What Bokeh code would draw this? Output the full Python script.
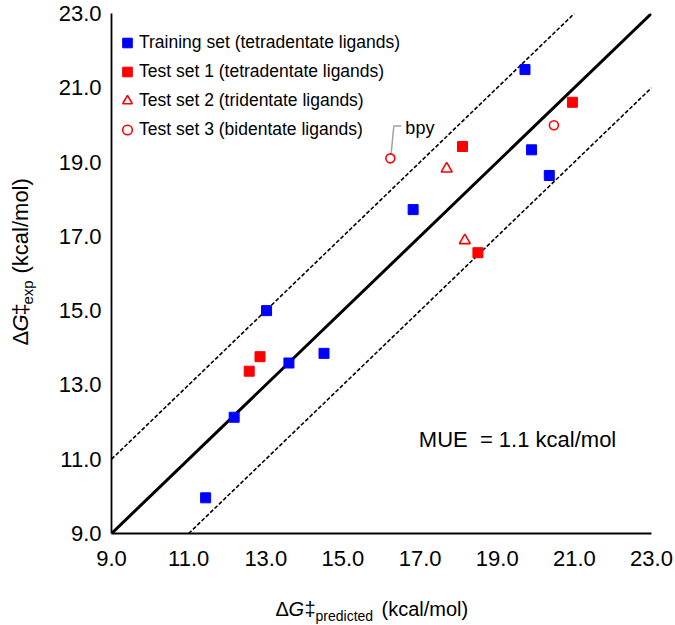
import math
from bokeh.plotting import figure
from bokeh.layouts import row, column
from bokeh.models import Range1d, FixedTicker, Label, Legend, LegendItem, PrintfTickFormatter
from bokeh.embed import file_html
from bokeh.resources import INLINE

FONT = "Liberation Sans"

# ---- data ----
tick_values = [9, 11, 13, 15, 17, 19, 21, 23]
axis_min, axis_max = 9.0, 23.0
band = 2.0

train_pred = [11.44, 12.18, 13.02, 13.60, 14.51, 16.82, 19.72, 19.89, 20.35]
train_exp = [9.96, 12.13, 15.00, 13.59, 13.85, 17.72, 21.49, 19.33, 18.64]
test1_pred = [12.57, 12.85, 18.10, 18.50, 20.95]
test1_exp = [13.37, 13.76, 19.42, 16.56, 20.61]
test2_pred = [17.69, 18.16]
test2_exp = [18.82, 16.89]
test3_pred = [16.23, 20.47]
test3_exp = [19.10, 19.99]

series_labels = [
    "Training set (tetradentate ligands)",
    "Test set 1 (tetradentate ligands)",
    "Test set 2 (tridentate ligands)",
    "Test set 3 (bidentate ligands)",
]
mue_text = "MUE\u00a0 = 1.1 kcal/mol"
bpy_text = "bpy"

p = figure(width=625, height=580,
           x_range=Range1d(axis_min, axis_max), y_range=Range1d(axis_min, axis_max),
           output_backend="svg", toolbar_location=None,
           min_border_left=61, min_border_right=24, min_border_top=13, min_border_bottom=47)
p.outline_line_color = None
p.xgrid.grid_line_color = None
p.ygrid.grid_line_color = None

for ax in (p.xaxis[0], p.yaxis[0]):
    ax.ticker = FixedTicker(ticks=tick_values)
    ax.formatter = PrintfTickFormatter(format="%.1f")
    ax.major_tick_out = 0
    ax.major_tick_in = 0
    ax.minor_tick_out = 0
    ax.minor_tick_in = 0
    ax.axis_line_color = "black"
    ax.axis_line_width = 1.8
    ax.major_label_text_font = FONT
    ax.major_label_text_font_size = "22px"
    ax.major_label_text_color = "black"
p.xaxis.major_label_standoff = 17
p.yaxis.major_label_standoff = 10

# reference lines
p.line([axis_min, axis_max], [axis_min, axis_max], line_color="black", line_width=3)
p.line([axis_min, axis_max - band], [axis_min + band, axis_max], line_color="black",
       line_width=1.6, line_dash="4 2")
p.line([axis_min + band, axis_max], [axis_min, axis_max - band], line_color="black",
       line_width=1.6, line_dash="4 2")

# bpy leader
bx, by = test3_pred[0], test3_exp[0]
p.line([bx + 0.02, bx + 0.09, bx + 0.28], [by + 0.13, by + 0.87, by + 0.87],
       line_color="#a0a0a0", line_width=1.5)

r1 = p.scatter(train_pred, train_exp, marker="square", size=10,
               fill_color="#0000FF", line_color="#0000FF")
r2 = p.scatter(test1_pred, test1_exp, marker="square", size=10,
               fill_color="#FF0000", line_color="#FF0000")
r3 = p.scatter(test2_pred, test2_exp, marker="triangle", size=11,
               fill_color=None, line_color="#FF0000", line_width=1.6)
r4 = p.scatter(test3_pred, test3_exp, marker="circle", size=9,
               fill_color=None, line_color="#FF0000", line_width=1.6)

legend = Legend(items=[LegendItem(label=l, renderers=[r]) for l, r in
                       zip(series_labels, [r1, r2, r3, r4])],
                location=(4, 391), margin=0, padding=0, spacing=4,
                glyph_width=24, glyph_height=25, label_height=25, label_standoff=0,
                label_text_font=FONT, label_text_font_size="17.5px",
                label_text_color="black",
                border_line_color=None, background_fill_alpha=0)
p.add_layout(legend)


def lab(fig, x, y, text, size, italic=False, angle=0.0, baseline="alphabetic"):
    fig.add_layout(Label(x=x, y=y, x_units="screen", y_units="screen", text=text,
                         text_font=FONT, text_font_size=size, angle=angle,
                         text_font_style="italic" if italic else "normal",
                         text_color="black", text_baseline=baseline,
                         text_align="left"))


def blank(w, h):
    f = figure(width=w, height=h, output_backend="svg", toolbar_location=None,
               x_axis_type=None, y_axis_type=None, min_border=0,
               x_range=Range1d(0, 1), y_range=Range1d(0, 1))
    f.outline_line_color = None
    f.xgrid.grid_line_color = None
    f.ygrid.grid_line_color = None
    return f


# MUE
lab(p, 307.3, 94, mue_text, "22px", baseline="middle")

# bpy
p.add_layout(Label(x=bx, y=by, x_offset=15, y_offset=30, text=bpy_text,
                   text_font=FONT, text_font_size="18px", text_baseline="middle",
                   text_color="black"))

# x title (below panel)
bottom = blank(625, 45)
xb = 17
x0 = 164
lab(bottom, x0, xb, "\u0394", "20px")
lab(bottom, x0 + 13, xb, "G", "20px", italic=True)
lab(bottom, x0 + 29, xb, "\u2021", "20px")
lab(bottom, x0 + 40, xb - 7, "predicted", "14px")
lab(bottom, x0 + 106, xb, "(kcal/mol)", "20px")

# y title (left panel, rotated)
left = blank(50, 625)
yx = 20
y0 = 280
a = math.pi / 2
lab(left, yx, y0, "\u0394", "22px", angle=a)
lab(left, yx, y0 + 14, "G", "22px", italic=True, angle=a)
lab(left, yx, y0 + 30, "\u2021", "22px", angle=a)
lab(left, yx + 7, y0 + 41, "exp", "15px", angle=a)
lab(left, yx, y0 + 72, "(kcal/mol)", "22px", angle=a)

layout = row(left, column(p, bottom, spacing=0), spacing=0)

open("out.html", "w").write(file_html(layout, INLINE))
